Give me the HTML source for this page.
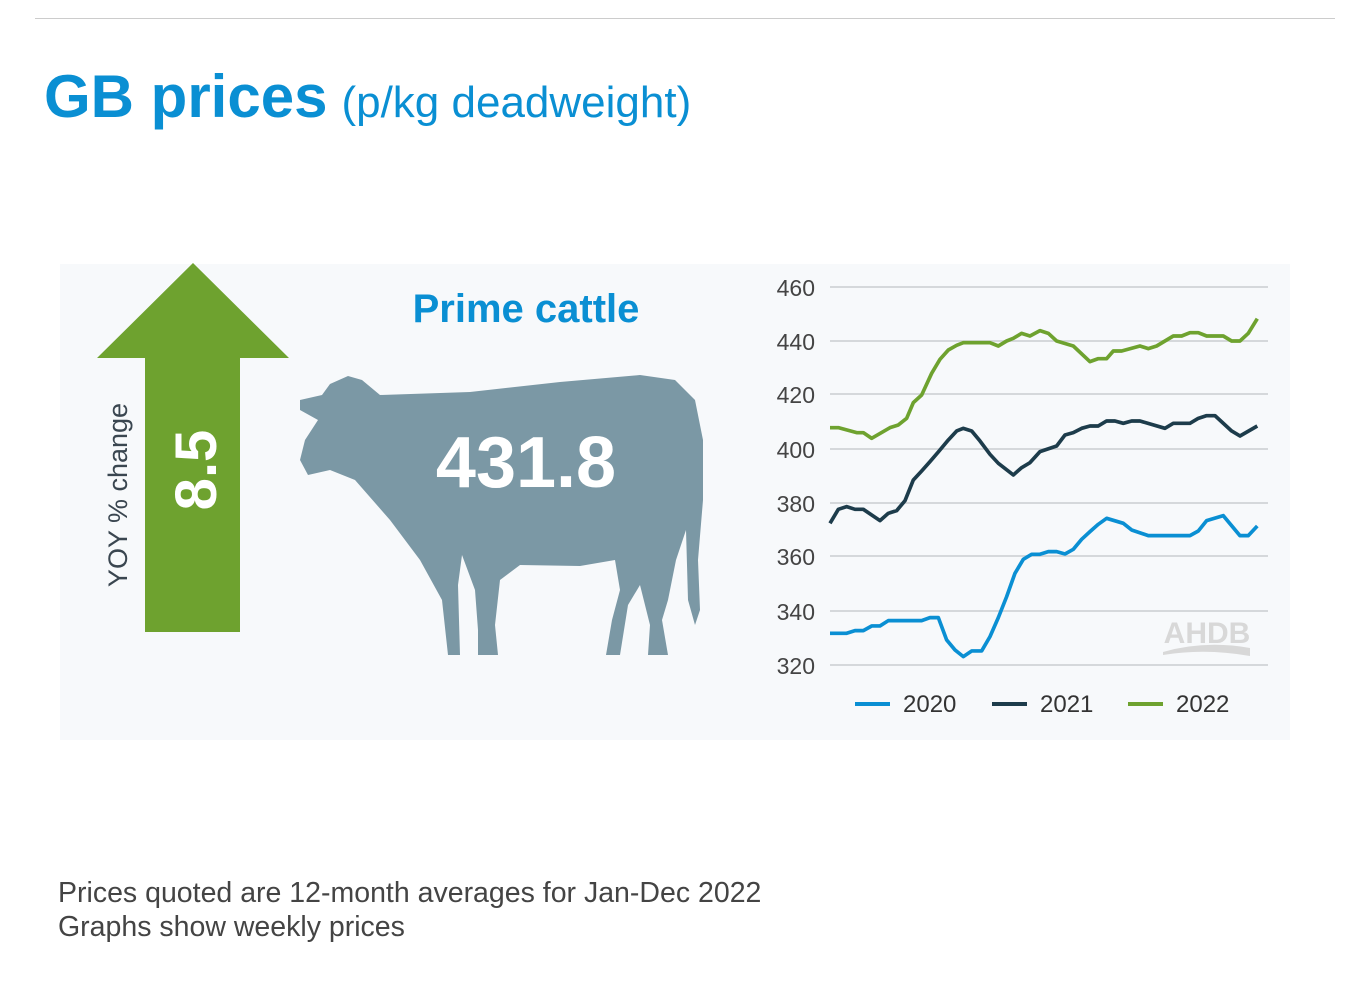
<!DOCTYPE html><html><head><style>
body{margin:0;width:1370px;height:1000px;background:#fff;position:relative;overflow:hidden;font-family:"Liberation Sans",sans-serif}
.a{position:absolute}
</style></head><body>
<div class="a" style="left:35px;top:18px;width:1300px;height:1px;background:#ccc"></div>
<div class="a" style="left:44px;top:62px;color:#0a8fd3;white-space:nowrap"><span style="font-size:60px;font-weight:bold">GB prices</span><span style="font-size:44px;margin-left:14px">(p/kg deadweight)</span></div>
<div class="a" style="left:60px;top:264px;width:1230px;height:476px;background:#f7f9fb"></div>
<svg class="a" style="left:0;top:0" width="1370" height="1000">
<polygon points="193,263 289,358 240,358 240,632 145,632 145,358 97,358" fill="#6ea22f"/>
<text x="0" y="0" transform="translate(216,470) rotate(-90)" text-anchor="middle" font-size="58" font-weight="bold" fill="#fff" font-family="Liberation Sans">8.5</text>
<text x="0" y="0" transform="translate(127,495) rotate(-90)" text-anchor="middle" font-size="27" fill="#3a4650" font-family="Liberation Sans">YOY % change</text>
<text x="526" y="322" text-anchor="middle" font-size="40" font-weight="bold" fill="#0a8fd3" font-family="Liberation Sans">Prime cattle</text>
<path d="M300,400 L322,395 L330,384 L348,376 L362,380 L380,395 L470,392 L560,382 L640,375 L675,380 L695,400 L703,440 L703,500 L698,560 L700,610 L695,625 L688,600 L686,530 L676,560 L668,600 L662,620 L668,655 L648,655 L650,625 L640,585 L628,605 L620,655 L606,655 L612,620 L620,590 L615,560 L580,566 L520,565 L500,580 L495,625 L498,655 L478,655 L478,630 L475,590 L462,555 L458,585 L460,655 L448,655 L442,600 L420,560 L390,520 L355,480 L330,470 L308,475 L300,460 L305,440 L318,420 L300,410 Z" fill="#7b98a5"/>
<text x="526" y="487" text-anchor="middle" font-size="72" font-weight="bold" fill="#fff" font-family="Liberation Sans">431.8</text>
<g stroke="#d5d8db" stroke-width="2">
<line x1="830" x2="1268" y1="287" y2="287"/><line x1="830" x2="1268" y1="341" y2="341"/><line x1="830" x2="1268" y1="394" y2="394"/><line x1="830" x2="1268" y1="449" y2="449"/><line x1="830" x2="1268" y1="503" y2="503"/><line x1="830" x2="1268" y1="556" y2="556"/><line x1="830" x2="1268" y1="611" y2="611"/><line x1="830" x2="1268" y1="665" y2="665"/></g>
<g font-size="23" fill="#444" font-family="Liberation Sans" text-anchor="end">
<text x="815" y="296">460</text><text x="815" y="350">440</text><text x="815" y="403">420</text><text x="815" y="458">400</text><text x="815" y="512">380</text><text x="815" y="565">360</text><text x="815" y="620">340</text><text x="815" y="674">320</text></g>
<text x="1207" y="643" text-anchor="middle" font-size="30" font-weight="bold" fill="#d8d8d8" font-family="Liberation Sans">AHDB</text>
<path d="M1163,652 Q1205,640 1250,648 L1250,656 Q1205,648 1163,655Z" fill="#d8d8d8"/>
<g transform="translate(820,270) scale(0.3333)" fill="none" stroke-width="11" stroke-linejoin="round">
<polyline stroke="#6ea22f" points="30,473 55,473 110,488 130,488 155,505 210,473 235,465 260,445 280,398 305,375 335,310 360,268 385,240 410,226 430,218 510,218 535,228 560,213 580,205 605,190 630,198 660,182 685,190 710,213 760,228 810,275 835,266 860,266 880,243 905,243 960,228 985,236 1010,228 1035,213 1060,198 1085,198 1110,188 1135,188 1160,198 1210,198 1235,213 1260,213 1285,190 1312,146"/>
<polyline stroke="#1d3c4b" points="30,760 55,718 80,710 105,718 130,718 180,752 205,730 230,722 255,692 280,630 305,603 330,575 355,546 385,510 410,483 430,475 455,483 480,513 510,553 535,580 580,615 605,593 630,578 660,545 710,528 735,495 760,488 785,475 810,468 835,468 860,453 885,453 910,460 935,453 960,453 1035,475 1060,460 1110,460 1135,445 1160,437 1185,437 1235,483 1260,498 1312,468"/>
<polyline stroke="#0a8fd3" points="30,1090 80,1090 105,1082 130,1082 155,1068 180,1068 205,1052 305,1052 330,1043 355,1043 380,1110 405,1140 430,1160 455,1143 485,1143 510,1100 535,1043 560,980 585,910 610,868 635,853 660,853 685,845 710,845 735,852 760,838 785,808 810,785 835,763 860,745 910,760 935,780 985,797 1110,797 1135,783 1160,752 1210,737 1235,767 1260,797 1285,797 1312,768"/>
</g>
<g stroke-width="4"><line x1="855" x2="890" y1="704" y2="704" stroke="#0a8fd3"/><line x1="992" x2="1027" y1="704" y2="704" stroke="#1d3c4b"/><line x1="1128" x2="1163" y1="704" y2="704" stroke="#6ea22f"/></g>
<g font-size="24" fill="#333" font-family="Liberation Sans"><text x="903" y="712">2020</text><text x="1040" y="712">2021</text><text x="1176" y="712">2022</text></g>
</svg>
<div class="a" style="left:58px;top:876px;font-size:28.5px;color:#444;line-height:34px;white-space:nowrap">Prices quoted are 12-month averages for Jan-Dec 2022<br>Graphs show weekly prices</div>
</body></html>
